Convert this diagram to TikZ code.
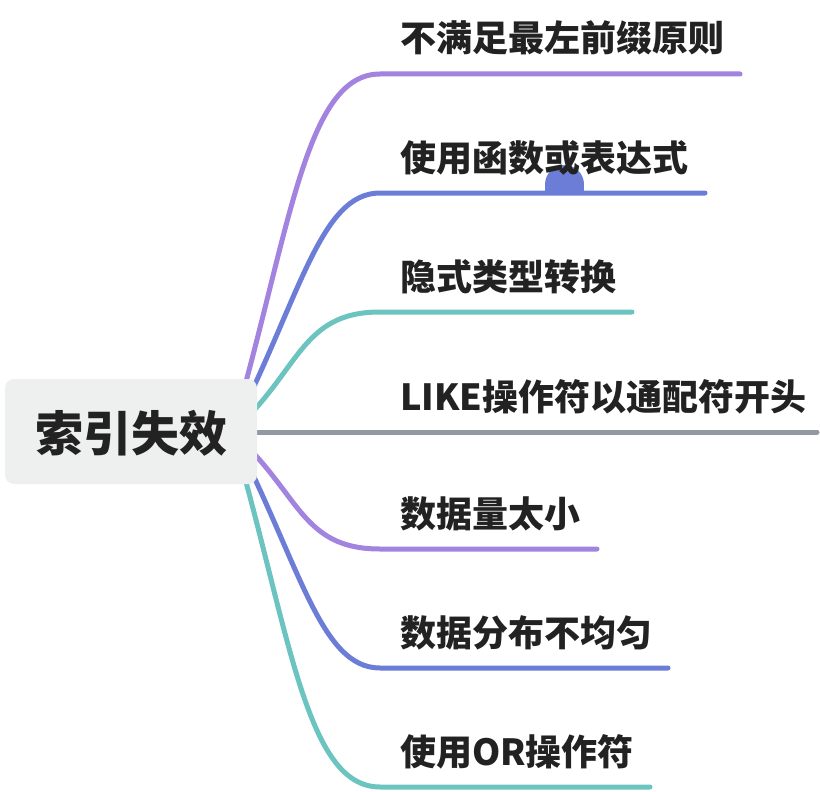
\documentclass[tikz,border=0pt]{standalone}
\usepackage{fontspec}
\setmainfont{Noto Sans CJK SC}
\definecolor{cpurple}{RGB}{163,131,224}
\definecolor{cblue}{RGB}{108,125,216}
\definecolor{cteal}{RGB}{108,196,193}
\definecolor{cgray}{RGB}{146,153,163}
\definecolor{rootfill}{RGB}{238,239,239}
\definecolor{ctext}{RGB}{34,34,34}
\tikzset{
  branch/.style={line width=5pt, line cap=round},
  leaf/.style={anchor=base west, inner sep=0pt, text=ctext, font=\fontsize{36pt}{40pt}\selectfont\bfseries},
  rootbox/.style={fill=rootfill, rounded corners=9pt},
}
\begin{document}
\begin{tikzpicture}[x=1pt,y=-1pt]
\useasboundingbox (0,0) rectangle (820,792);
% coordinates
\coordinate (o) at (232,432);
\coordinate (e1) at (740,74);
\coordinate (e2) at (705,193);
\coordinate (e3) at (632,312);
\coordinate (e4) at (817,432);
\coordinate (e5) at (597,549);
\coordinate (e6) at (668,668);
\coordinate (e7) at (650,787);
% branches
\draw[branch, cpurple] (o) .. controls (290,232) and (305,74) .. (380,74) -- (e1);
\draw[branch, cblue] (o) .. controls (300,298) and (320,193) .. (380,193) -- (e2);
\draw[branch, cteal] (o) .. controls (300,372) and (300,312) .. (380,312) -- (e3);
\draw[branch, cgray] (o) -- (e4);
\draw[branch, cpurple] (o) .. controls (300,492) and (300,549) .. (380,549) -- (e5);
\draw[branch, cblue] (o) .. controls (300,564) and (320,668) .. (380,668) -- (e6);
\draw[branch, cteal] (o) .. controls (290,631) and (305,787) .. (380,787) -- (e7);
% blob
\begin{scope}
  \clip (540,160) rectangle (590,194);
  \fill[cblue] (564.5,184.5) circle[radius=19.5pt];
  \fill[cblue] (545,184.5) rectangle (584,195);
\end{scope}
% root
\fill[rootbox] (5,379) rectangle (257,484);
\node[anchor=base, inner sep=0pt, text=ctext, font=\fontsize{48pt}{52pt}\selectfont\bfseries] (root) at (131,451) {索引失效};
% leaves
\node[leaf] (l1) at (400,52) {不满足最左前缀原则};
\node[leaf] (l2) at (400,171) {使用函数或表达式};
\node[leaf] (l3) at (400,290) {隐式类型转换};
\node[leaf] (l4) at (400,410) {LIKE操作符以通配符开头};
\node[leaf] (l5) at (400,527) {数据量太小};
\node[leaf] (l6) at (400,646) {数据分布不均匀};
\node[leaf] (l7) at (400,765) {使用OR操作符};
\end{tikzpicture}
\end{document}
